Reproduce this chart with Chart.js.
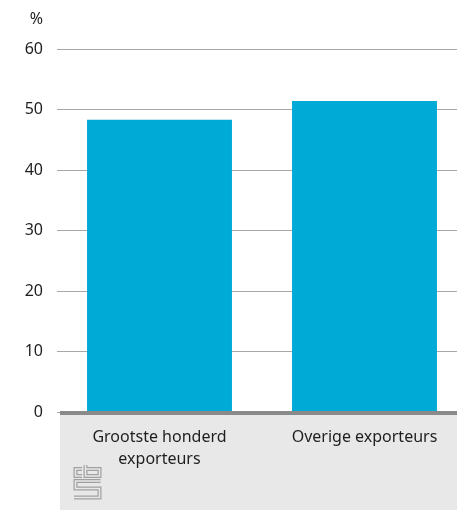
<!DOCTYPE html>
<html>
<head>
<meta charset="utf-8">
<script src="https://cdn.jsdelivr.net/npm/chart.js@4/dist/chart.umd.min.js"></script>
<style>
html,body{margin:0;padding:0;background:#fff;overflow:hidden;}
#wrap{position:relative;width:467px;height:510px;}
</style>
</head>
<body>
<div id="wrap"><canvas id="c" width="467" height="510"></canvas></div>
<script>
const categories = [['Grootste honderd', 'exporteurs'], ['Overige exporteurs']];
const values = [48.3, 51.4];
const yTicks = [0, 10, 20, 30, 40, 50, 60];
const unitLabel = '%';

const FONT = '"Noto Sans", "Open Sans", sans-serif';
const TEXT = '#1e1e1e';
const PANEL = '#e8e8e8';

function dbl(ctx, pts) {
  ctx.beginPath();
  ctx.moveTo(pts[0][0], pts[0][1]);
  for (let i = 1; i < pts.length; i++) ctx.lineTo(pts[i][0], pts[i][1]);
  ctx.lineWidth = 4; ctx.strokeStyle = '#a0a0a0'; ctx.stroke();
  ctx.lineWidth = 1.6; ctx.strokeStyle = PANEL; ctx.stroke();
}

const decor = {
  id: 'decor',
  beforeDraw(chart) {
    const ctx = chart.ctx, a = chart.chartArea;
    ctx.save();
    ctx.fillStyle = PANEL;
    ctx.fillRect(60, a.bottom, chart.width - 60, chart.height - a.bottom);
    ctx.restore();
  },
  afterDraw(chart) {
    const ctx = chart.ctx, a = chart.chartArea, y = chart.scales.y;
    ctx.save();
    // axis line
    ctx.fillStyle = '#8a8a8a';
    ctx.fillRect(60, a.bottom - 1, chart.width - 60, 4);
    // unit label
    ctx.font = '16px ' + FONT;
    ctx.fillStyle = TEXT;
    ctx.textAlign = 'right';
    ctx.textBaseline = 'middle';
    ctx.fillText(unitLabel, y.right - 14, a.top - 30);
    // logo (approximation)
    ctx.lineJoin = 'miter'; ctx.lineCap = 'butt';
    const x = 74, t = 467;
    dbl(ctx, [[x + 8, t + 2], [x + 1.5, t + 2], [x + 1.5, t + 9], [x + 8, t + 9]]);
    dbl(ctx, [[x + 11.5, t - 2], [x + 11.5, t + 9], [x + 25.5, t + 9], [x + 25.5, t + 2], [x + 11.5, t + 2]]);
    dbl(ctx, [[x + 26.5, t + 14], [x + 1.5, t + 14], [x + 1.5, t + 21.5], [x + 25.5, t + 21.5], [x + 25.5, t + 30.5], [x, t + 30.5]]);
    ctx.restore();
  }
};

new Chart(document.getElementById('c'), {
  type: 'bar',
  data: {
    labels: categories,
    datasets: [{
      data: values,
      backgroundColor: '#00aad7',
      borderWidth: 0,
      categoryPercentage: 0.707,
      barPercentage: 1
    }]
  },
  options: {
    responsive: false,
    animation: false,
    layout: { padding: { top: 49, right: 0, left: 0, bottom: 0 } },
    plugins: { legend: { display: false }, tooltip: { enabled: false }, title: { display: false } },
    scales: {
      x: {
        offset: true,
        grid: { display: false, drawTicks: false },
        border: { display: false },
        ticks: { color: TEXT, font: { family: FONT, size: 16, lineHeight: 1.38 }, padding: 14, maxRotation: 0, autoSkip: false },
        afterFit(s) { s.height = 98; }
      },
      y: {
        min: 0, max: 60,
        afterBuildTicks(s) { s.ticks = yTicks.map(v => ({ value: v })); },
        grid: { color: '#a8a8a8', lineWidth: 1, drawTicks: false },
        border: { display: false },
        ticks: { color: TEXT, font: { family: FONT, size: 16 }, padding: 14 },
        afterFit(s) { s.width = 57; }
      }
    }
  },
  plugins: [decor]
});
</script>
</body>
</html>
